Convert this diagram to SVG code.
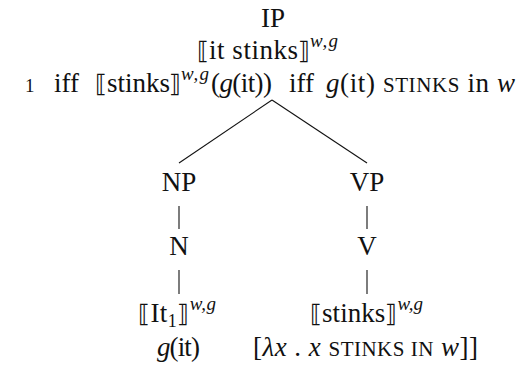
<svg xmlns="http://www.w3.org/2000/svg" width="525" height="367" viewBox="0 0 525 367">
<style>
text{font-family:"Liberation Serif","DejaVu Serif",serif;font-size:27px;fill:#111}
.c{text-anchor:middle}
.m{font-style:italic}
.sup{font-size:19px;font-style:italic}
.sub{font-size:18px}
.sc{font-size:21px}
.num{font-size:19px}
.br{font-family:"DejaVu Serif","Liberation Serif",serif;font-size:24px}
.edge{stroke:#111;stroke-width:1.1;fill:none}
</style>
<rect width="525" height="367" fill="#fff"/>
<g id="connectors">
<line class="edge" x1="272" y1="100" x2="179" y2="163"/>
<line class="edge" x1="272" y1="100" x2="367" y2="163"/>
<line class="edge" x1="179" y1="206" x2="179" y2="229"/>
<line class="edge" x1="367" y1="206" x2="367" y2="229"/>
<line class="edge" x1="179" y1="270" x2="179" y2="294"/>
<line class="edge" x1="367" y1="270" x2="367" y2="294"/>
</g>
<g id="IP">
<text class="c" x="273" y="27">IP</text>
<text class="br" x="197" y="59">⟦</text>
<text x="209" y="59" textLength="89" lengthAdjust="spacing">it stinks</text>
<text class="br" x="298" y="59">⟧</text>
<text class="sup" x="310" y="47" textLength="28">w,g</text>
<text class="num" x="25" y="92">1</text>
<text x="54" y="92">iff</text>
<text class="br" x="95" y="92">⟦</text>
<text x="107" y="92">stinks</text>
<text class="br" x="169" y="92">⟧</text>
<text class="sup" x="181" y="80" textLength="28">w,g</text>
<text x="211" y="92" textLength="61">(<tspan class="m">g</tspan>(it))</text>
<text x="289" y="92">iff</text>
<text x="326" y="92" textLength="189"><tspan class="m">g</tspan>(it) <tspan class="sc">STINKS</tspan> in <tspan class="m">w</tspan></text>
</g>
<g id="NP"><text class="c" x="179" y="191">NP</text></g>
<g id="VP"><text class="c" x="367" y="191">VP</text></g>
<g id="N"><text class="c" x="179" y="255">N</text></g>
<g id="V"><text class="c" x="367" y="255">V</text></g>
<g id="It">
<text x="138" y="322" textLength="78"><tspan class="br">⟦</tspan>It<tspan class="sub" dy="5">1</tspan><tspan class="br" dy="-5">⟧</tspan><tspan class="sup" dy="-12">w,g</tspan></text>
<text x="157" y="356" textLength="43"><tspan class="m">g</tspan>(it)</text>
</g>
<g id="stinks">
<text x="310" y="322" textLength="113"><tspan class="br">⟦</tspan>stinks<tspan class="br">⟧</tspan><tspan class="sup" dy="-12">w,g</tspan></text>
<text x="253" y="356" textLength="225">[<tspan class="m">λx</tspan> . <tspan class="m">x</tspan> <tspan class="sc">STINKS IN</tspan> <tspan class="m">w</tspan>]]</text>
</g>
</svg>
